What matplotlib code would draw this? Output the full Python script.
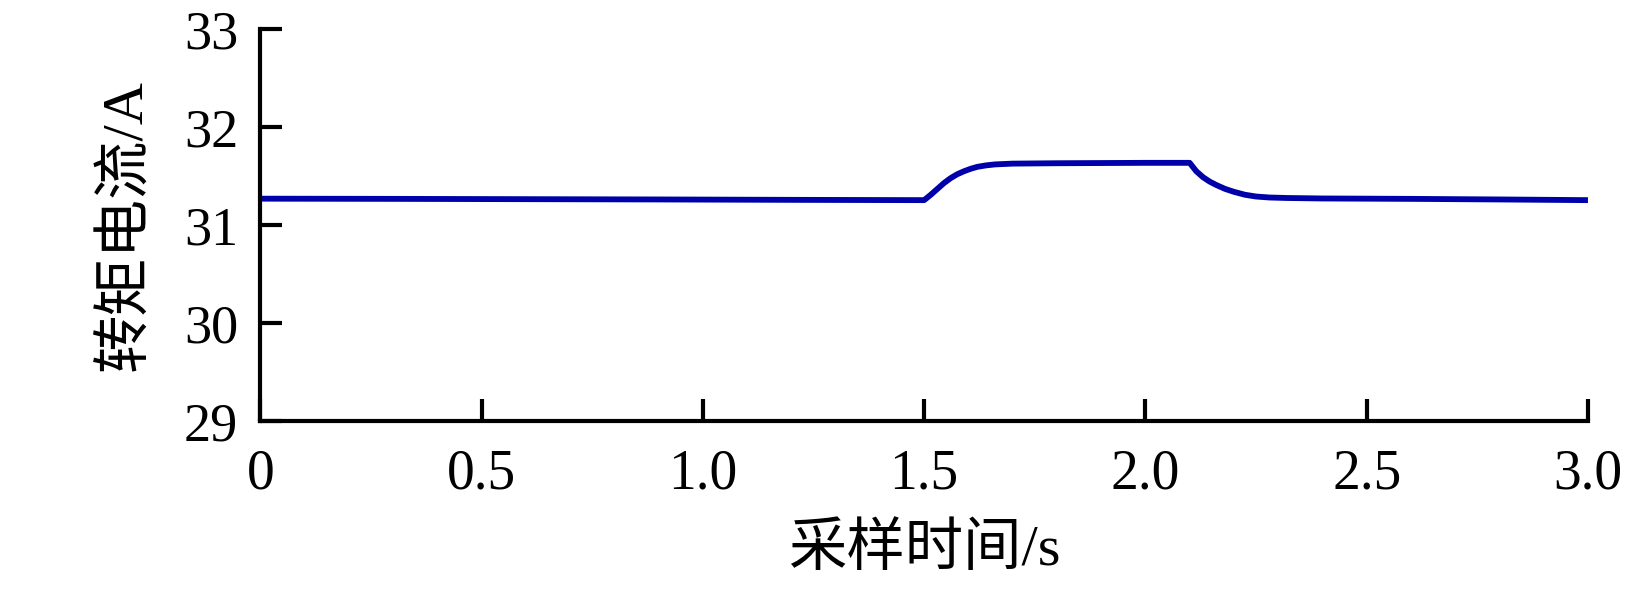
import matplotlib
matplotlib.use('Agg')
import matplotlib.pyplot as plt

plt.rcParams['font.family'] = ['Liberation Serif', 'Noto Sans CJK SC']

# values
time_s = [0, 0.3, 0.6, 0.9, 1.2, 1.5,
          1.515, 1.53, 1.545, 1.56, 1.575, 1.59, 1.605, 1.62, 1.64, 1.66, 1.70, 1.80, 1.90, 2.00, 2.10,
          2.115, 2.13, 2.145, 2.16, 2.18, 2.20, 2.225, 2.25, 2.28, 2.32, 2.40, 2.6, 2.8, 3.0]
current_a = [31.27, 31.268, 31.265, 31.262, 31.258, 31.255,
             31.31, 31.37, 31.43, 31.48, 31.52, 31.55, 31.575, 31.595, 31.61, 31.62, 31.628, 31.632, 31.634, 31.636, 31.636,
             31.55, 31.49, 31.445, 31.41, 31.37, 31.34, 31.31, 31.292, 31.282, 31.277, 31.272, 31.268, 31.262, 31.255]

xticks = [0, 0.5, 1.0, 1.5, 2.0, 2.5, 3.0]
xtick_labels = ['0', '0.5', '1.0', '1.5', '2.0', '2.5', '3.0']
yticks = [29, 30, 31, 32, 33]

fig = plt.figure(figsize=(16.27, 5.92), dpi=100)
ax = fig.add_axes([0.160, 0.289, 0.816, 0.6615])

ax.plot(time_s, current_a, color='#0000AA', lw=4.2, solid_capstyle='butt')

ax.set_xlim(0, 3.0)
ax.set_ylim(29, 33)
ax.set_xticks(xticks)
ax.set_xticklabels(xtick_labels)
ax.set_yticks(yticks)

for s in ['top', 'right']:
    ax.spines[s].set_visible(False)
for s in ['left', 'bottom']:
    ax.spines[s].set_linewidth(3)

ax.tick_params(axis='both', direction='in', length=16, width=3)
ax.tick_params(axis='x', labelsize=40, pad=20)
ax.tick_params(axis='y', labelsize=39, pad=16)

ax.set_xlabel('采样时间/s', fontsize=42, labelpad=16)
ax.set_ylabel('转矩电流/A', fontsize=42, labelpad=22)

fig.savefig('out.png', dpi=100)
